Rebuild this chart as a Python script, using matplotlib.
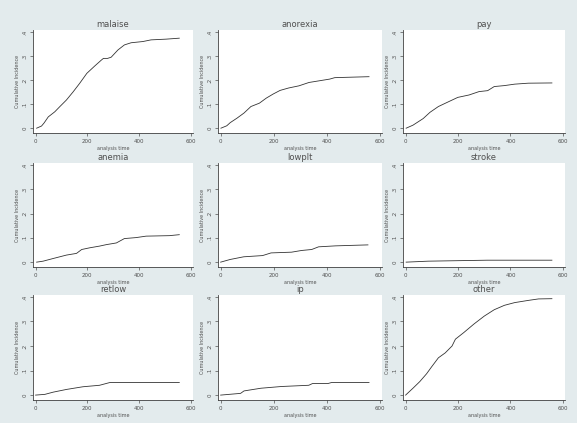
import matplotlib
matplotlib.use("Agg")
import matplotlib.pyplot as plt

W, H = 577, 423
titles = ["malaise", "anorexia", "pay", "anemia", "lowplt", "stroke", "retlow", "ip", "other"]

malaise_t = [4, 23, 33, 49, 74, 93, 119, 145, 170, 198, 228, 254, 262, 278, 292, 318, 343, 369, 414, 446, 504, 555]
malaise_y = [0, 0.009, 0.022, 0.047, 0.068, 0.089, 0.117, 0.151, 0.186, 0.228, 0.258, 0.283, 0.29, 0.29, 0.295, 0.325, 0.346, 0.355, 0.36, 0.367, 0.37, 0.374]
anorexia_t = [1, 23, 36, 62, 88, 114, 146, 172, 198, 224, 256, 295, 333, 372, 411, 430, 559]
anorexia_y = [0, 0.01, 0.023, 0.042, 0.063, 0.09, 0.104, 0.125, 0.142, 0.157, 0.167, 0.176, 0.19, 0.197, 0.204, 0.21, 0.214]
pay_t = [2, 28, 67, 93, 125, 158, 199, 242, 280, 313, 338, 377, 416, 468, 558]
pay_y = [0, 0.0125, 0.04, 0.066, 0.09, 0.107, 0.128, 0.138, 0.152, 0.156, 0.173, 0.177, 0.183, 0.187, 0.188]
anemia_t = [4, 29, 68, 119, 158, 178, 209, 247, 273, 312, 343, 388, 427, 517, 555]
anemia_y = [0, 0.004, 0.015, 0.029, 0.036, 0.052, 0.059, 0.066, 0.072, 0.079, 0.097, 0.101, 0.107, 0.109, 0.113]
lowplt_t = [0, 36, 87, 158, 190, 267, 305, 343, 369, 433, 555]
lowplt_y = [0, 0.011, 0.022, 0.027, 0.038, 0.041, 0.048, 0.052, 0.063, 0.067, 0.071]
stroke_t = [2, 86, 312, 558]
stroke_y = [0, 0.004, 0.008, 0.008]
retlow_t = [0, 36, 68, 119, 183, 247, 286, 295, 555]
retlow_y = [0, 0.003, 0.012, 0.023, 0.034, 0.040, 0.051, 0.051, 0.051]
ip_t = [0, 75, 88, 152, 229, 332, 346, 404, 417, 559]
ip_y = [0, 0.007, 0.017, 0.028, 0.035, 0.040, 0.047, 0.047, 0.051, 0.051]
other_t = [0, 28, 54, 80, 99, 125, 151, 177, 190, 222, 261, 300, 338, 377, 416, 468, 507, 558]
other_y = [0, 0.028, 0.055, 0.087, 0.115, 0.152, 0.172, 0.2, 0.228, 0.255, 0.29, 0.322, 0.348, 0.366, 0.377, 0.386, 0.392, 0.393]

series = [(malaise_t, malaise_y), (anorexia_t, anorexia_y), (pay_t, pay_y),
          (anemia_t, anemia_y), (lowplt_t, lowplt_y), (stroke_t, stroke_y),
          (retlow_t, retlow_y), (ip_t, ip_y), (other_t, other_y)]

xticks = [0, 200, 400, 600]
xticklabels = ["0", "200", "400", "600"]
yticks = [0, 0.1, 0.2, 0.3, 0.4]
yticklabels = ["0", ".1", ".2", ".3", ".4"]

fig = plt.figure(figsize=(W / 100, H / 100), dpi=100, facecolor="#e3ebed")

col_lr = [(33, 193), (218, 382), (403, 565)]
row_tb = [(30, 133), (163, 267), (295, 400)]

txt = "#505050"
for i, (title, (t, y)) in enumerate(zip(titles, series)):
    r, c = divmod(i, 3)
    l, rr = col_lr[c]
    tp, bt = row_tb[r]
    ax = fig.add_axes([l / W, 1 - bt / H, (rr - l) / W, (bt - tp) / H])
    ax.set_facecolor("white")
    ax.plot(t, y, color="#333333", lw=0.6)
    ax.set_xlim(-10, 608)
    ax.set_ylim(-0.02, 0.408)
    ax.set_xticks(xticks)
    ax.set_xticklabels(xticklabels)
    ax.set_yticks(yticks)
    ax.set_yticklabels(yticklabels, rotation=90, va="center")
    for s in ["top", "right"]:
        ax.spines[s].set_visible(False)
    for s in ["left", "bottom"]:
        ax.spines[s].set_color("#404040")
        ax.spines[s].set_linewidth(0.6)
    ax.tick_params(axis="both", labelsize=4, colors=txt, length=2.5, width=0.5, pad=1.5)
    ax.set_title(title, fontsize=6, color=txt, pad=2)
    ax.set_xlabel("analysis time", fontsize=3.5, color=txt, labelpad=1.5)
    ax.set_ylabel("Cumulative Incidence", fontsize=3.5, color=txt, labelpad=1.5)

fig.savefig("out.png", dpi=100, facecolor=fig.get_facecolor())
